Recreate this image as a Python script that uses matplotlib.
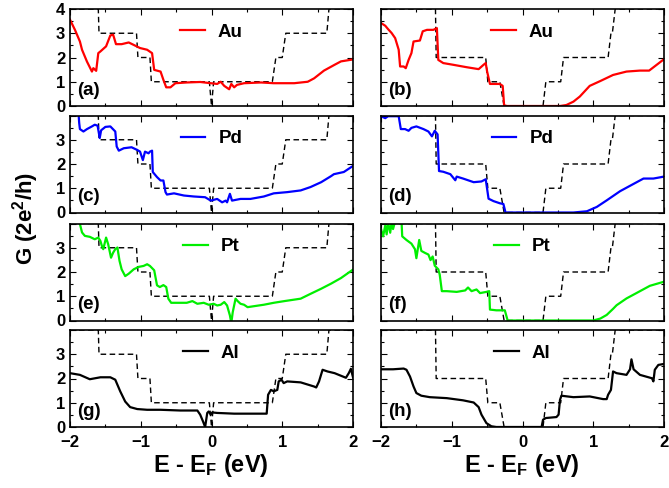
import numpy as np
import matplotlib
matplotlib.use("Agg")
import matplotlib.pyplot as plt

plt.rcParams['font.family'] = ['Liberation Sans', 'DejaVu Sans']
plt.rcParams['font.weight'] = 'bold'
plt.rcParams['mathtext.fontset'] = 'custom'
plt.rcParams['mathtext.rm'] = 'Liberation Sans:bold'
plt.rcParams['mathtext.bf'] = 'Liberation Sans:bold'
plt.rcParams['mathtext.default'] = 'bf'

# escalones de referencia (linea discontinua)
x_ref_izq = [-2, -1.60, -1.59, -1.06, -1.04, -0.87, -0.85, -0.03, 0.0, 0.03, 0.86, 0.91, 1.00, 1.05, 1.63, 1.66, 2]
g_ref_izq = [4, 4, 3, 3, 2, 2, 1, 1, 0, 1, 1, 2, 2, 3, 3, 4, 4]
x_ref_der = [-2, -1.23, -1.22, -0.52, -0.49, -0.32, -0.26, 0.29, 0.33, 0.54, 0.58, 1.21, 1.25, 1.27, 1.31, 2]
g_ref_der = [4, 4, 2, 2, 1, 1, 0, 0, 1, 1, 2, 2, 3, 3, 4, 4]

# (a) Au
xa = [-2, -1.93, -1.86, -1.83, -1.76, -1.69, -1.67, -1.63, -1.60, -1.57, -1.49, -1.43, -1.39, -1.35, -1.27, -1.17,
      -1.10, -1.01, -0.91, -0.84, -0.81, -0.72, -0.68, -0.64, -0.58, -0.51, -0.35, -0.16, -0.01, 0.08, 0.13, 0.18,
      0.25, 0.28, 0.32, 0.36, 0.46, 0.70, 0.88, 1.17, 1.36, 1.45, 1.59, 1.74, 1.83, 2]
ga = [3.56, 3.14, 2.66, 2.32, 1.83, 1.42, 1.56, 1.45, 2.18, 2.25, 2.46, 2.91, 2.94, 2.55, 2.55, 2.62,
      2.52, 2.39, 2.32, 2.18, 1.49, 1.42, 1.08, 0.77, 0.77, 0.94, 0.97, 0.99, 0.94, 0.91, 1.0, 0.83,
      0.69, 0.91, 0.77, 0.87, 0.94, 0.97, 0.94, 0.94, 1.0, 1.14, 1.46, 1.70, 1.84, 1.92]
# (b) Au
xb = [-2, -1.94, -1.90, -1.85, -1.80, -1.75, -1.73, -1.68, -1.65, -1.61, -1.57, -1.54, -1.45, -1.41, -1.35, -1.26,
      -1.21, -1.19, -1.12, -0.98, -0.79, -0.62, -0.55, -0.52, -0.50, -0.46, -0.32, -0.28, -0.26, -0.22, 0.53, 0.62,
      0.72, 0.81, 0.95, 1.10, 1.28, 1.47, 1.66, 1.79, 2]
gb = [3.42, 3.31, 3.17, 3.01, 2.80, 2.32, 1.63, 1.63, 1.56, 1.90, 2.18, 2.66, 2.70, 3.08, 3.14, 3.14,
      3.21, 1.90, 1.77, 1.70, 1.60, 1.52, 1.70, 1.77, 1.42, 0.91, 0.91, 0.83, 0.03, 0, 0, 0.04,
      0.18, 0.39, 0.83, 1.03, 1.28, 1.42, 1.46, 1.46, 1.93]
# (c) Pd
xc = [-1.88, -1.87, -1.86, -1.81, -1.76, -1.69, -1.65, -1.61, -1.58, -1.56, -1.50, -1.43, -1.36, -1.34, -1.31, -1.24,
      -1.13, -1.05, -1.01, -0.97, -0.94, -0.89, -0.87, -0.84, -0.83, -0.77, -0.72, -0.68, -0.65, -0.63, -0.53, -0.39,
      -0.25, -0.09, -0.01, 0.08, 0.15, 0.20, 0.22, 0.26, 0.29, 0.34, 0.41, 0.55, 0.74, 0.88, 1.07, 1.26,
      1.40, 1.55, 1.69, 1.73, 1.87, 2]
gc = [4.1, 3.69, 3.44, 3.34, 3.44, 3.55, 3.62, 3.58, 3.07, 3.39, 3.53, 3.55, 3.34, 2.72, 2.55, 2.65,
      2.69, 2.58, 2.51, 2.16, 2.51, 2.44, 2.51, 2.55, 1.67, 1.46, 1.32, 1.32, 0.84, 0.74, 0.79, 0.70,
      0.66, 0.63, 0.49, 0.56, 0.42, 0.49, 0.42, 0.77, 0.49, 0.52, 0.56, 0.56, 0.66, 0.79, 0.84, 0.91,
      1.05, 1.25, 1.50, 1.58, 1.67, 1.92]
# (d) Pd
xd = [-2, -1.94, -1.90, -1.75, -1.72, -1.66, -1.61, -1.57, -1.50, -1.40, -1.33, -1.28, -1.24, -1.20, -1.18, -1.12,
      -1.02, -0.95, -0.93, -0.84, -0.69, -0.58, -0.52, -0.48, -0.41, -0.32, -0.27, -0.24, 0.72, 0.91, 1.05, 1.19,
      1.38, 1.57, 1.71, 1.85, 2]
gd = [3.97, 3.89, 3.97, 3.97, 3.44, 3.44, 3.37, 3.49, 3.55, 3.44, 3.34, 3.14, 3.37, 3.22, 1.71, 1.68,
      1.58, 1.33, 1.48, 1.40, 1.25, 1.28, 1.37, 0.57, 0.47, 0.38, 0.35, 0, 0, 0.05, 0.23, 0.50,
      0.88, 1.18, 1.40, 1.40, 1.48]
# (e) Pt
xe = [-1.87, -1.83, -1.79, -1.72, -1.65, -1.60, -1.57, -1.55, -1.53, -1.49, -1.46, -1.42, -1.39, -1.36, -1.33, -1.30,
      -1.27, -1.22, -1.17, -1.10, -1.03, -0.96, -0.91, -0.87, -0.81, -0.77, -0.73, -0.68, -0.64, -0.61, -0.57, -0.49,
      -0.35, -0.27, -0.20, -0.11, -0.04, 0.03, 0.08, 0.13, 0.18, 0.22, 0.26, 0.28, 0.30, 0.34, 0.37, 0.41,
      0.46, 0.51, 0.60, 0.74, 0.88, 1.03, 1.26, 1.40, 1.55, 1.69, 1.83, 2]
ge = [4.1, 3.63, 3.49, 3.45, 3.35, 3.42, 3.28, 3.08, 2.94, 3.42, 3.14, 2.59, 2.80, 2.94, 3.01, 2.46,
      2.11, 1.83, 1.93, 2.11, 2.21, 2.25, 2.32, 2.25, 2.07, 1.45, 1.38, 1.46, 1.38, 0.90, 0.73, 0.73,
      0.73, 0.80, 0.69, 0.73, 0.65, 0.69, 0.62, 0.65, 0.76, 0.62, 0.21, -0.1, 0.34, 0.90, 0.80, 0.69,
      0.65, 0.55, 0.59, 0.65, 0.73, 0.80, 0.90, 1.10, 1.31, 1.52, 1.75, 2.1]
# (f) Pt
xf = [-2, -1.97, -1.94, -1.92, -1.90, -1.87, -1.85, -1.83, -1.80, -1.71, -1.70, -1.64, -1.57, -1.52, -1.50, -1.46,
      -1.43, -1.38, -1.33, -1.30, -1.27, -1.24, -1.19, -1.17, -1.14, -1.07, -0.93, -0.81, -0.77, -0.72, -0.65, -0.60,
      -0.51, -0.47, -0.46, -0.37, -0.25, -0.21, 1.0, 1.10, 1.19, 1.28, 1.33, 1.47, 1.61, 1.80, 2]
gf = [3.77, 3.47, 3.92, 3.55, 4.05, 3.62, 4.05, 3.77, 4.1, 4.1, 3.47, 3.32, 3.17, 2.94, 2.57, 3.32,
      2.87, 2.79, 2.72, 2.49, 2.64, 2.26, 2.11, 1.89, 1.21, 1.21, 1.18, 1.24, 1.36, 1.21, 1.28, 1.13,
      1.18, 1.21, 0.45, 0.42, 0.42, 0, 0, 0.08, 0.23, 0.48, 0.63, 0.91, 1.13, 1.43, 1.60]
# (g) Al
xg = [-2, -1.86, -1.72, -1.57, -1.43, -1.36, -1.29, -1.22, -1.15, -1.05, -0.91, -0.72, -0.44, -0.20, -0.16, -0.12,
      -0.09, -0.06, -0.04, -0.01, 0.01, 0.08, 0.32, 0.55, 0.78, 0.80, 0.84, 0.88, 0.93, 0.95, 0.99, 1.02,
      1.07, 1.26, 1.45, 1.48, 1.52, 1.57, 1.64, 1.74, 1.90, 1.94, 1.97, 2]
gg = [2.22, 2.15, 1.97, 2.05, 2.05, 1.95, 1.47, 1.05, 0.82, 0.74, 0.71, 0.71, 0.68, 0.68, 0.51, 0.23,
      0, 0.58, 0.64, 0.51, 0.60, 0.58, 0.55, 0.55, 0.55, 1.33, 1.53, 1.47, 1.53, 1.88, 1.95, 1.81,
      1.88, 1.84, 1.67, 1.63, 1.88, 2.36, 2.29, 2.22, 2.03, 2.22, 2.40, 2.05]
# (h) Al
xh = [-2, -1.83, -1.68, -1.64, -1.59, -1.54, -1.50, -1.43, -1.31, -1.07, -0.84, -0.69, -0.62, -0.58, -0.51, -0.44,
      -0.37, 0.27, 0.29, 0.33, 0.48, 0.51, 0.53, 0.55, 0.72, 0.95, 1.14, 1.19, 1.21, 1.25, 1.28, 1.33,
      1.47, 1.52, 1.54, 1.57, 1.66, 1.83, 1.85, 1.87, 1.92, 2]
gh = [2.38, 2.38, 2.41, 2.36, 2.08, 1.67, 1.40, 1.29, 1.23, 1.19, 1.10, 1.01, 0.82, 0.51, 0.16, 0.03,
      0, 0, 0.30, 0.37, 0.41, 0.51, 1.12, 1.29, 1.23, 1.26, 1.15, 1.15, 1.33, 1.53, 2.29, 2.22,
      2.15, 2.38, 2.79, 2.38, 2.15, 2.01, 1.88, 2.36, 2.56, 2.60]

paneles = [(xa, ga, 'red', 'Au', '(a)'), (xb, gb, 'red', 'Au', '(b)'),
           (xc, gc, 'blue', 'Pd', '(c)'), (xd, gd, 'blue', 'Pd', '(d)'),
           (xe, ge, '#00ee00', 'Pt', '(e)'), (xf, gf, '#00ee00', 'Pt', '(f)'),
           (xg, gg, 'black', 'Al', '(g)'), (xh, gh, 'black', 'Al', '(h)')]

fig = plt.figure(figsize=(6.69, 4.88), dpi=100)
izq = [70/669, 381/669]
ancho = 283/669
bases = [1-106/488, 1-212.5/488, 1-320.5/488, 1-427/488]
alto = 97/488

for i, (x, g, c, nombre, etiqueta) in enumerate(paneles):
    fila, col = i // 2, i % 2
    ax = fig.add_axes([izq[col], bases[fila], ancho, alto])
    if col == 0:
        ax.plot(x_ref_izq, g_ref_izq, '--', color='black', lw=1, dashes=(4, 2.5))
    else:
        ax.plot(x_ref_der, g_ref_der, '--', color='black', lw=1, dashes=(4, 2.5))
    ax.plot(x, g, color=c, lw=1.6, label=nombre)
    ax.set_xlim(-2, 2)
    ax.set_ylim(0, 4)
    ax.set_xticks([-2, -1, 0, 1, 2])
    ax.set_xticks(np.arange(-2, 2.01, 0.5), minor=True)
    ax.set_yticks([0, 1, 2, 3, 4])
    ax.set_yticks(np.arange(0, 4.01, 0.5), minor=True)
    ax.tick_params(which='both', direction='in', top=True, right=True, labelsize=12, width=0.8)
    ax.tick_params(which='major', length=4)
    ax.tick_params(which='minor', length=2.5)
    if col == 0:
        if fila == 0:
            ax.set_yticklabels(['0', '1', '2', '3', '4'])
        else:
            ax.set_yticklabels(['0', '1', '2', '3', ''])
    else:
        ax.set_yticklabels([])
    if fila < 3:
        ax.set_xticklabels([])
    else:
        ax.tick_params(axis='x', pad=5.5)
    for s in ax.spines.values():
        s.set_linewidth(1.2)
    ax.text(0.025, 0.16, etiqueta, transform=ax.transAxes, fontsize=13.5, fontweight='bold', va='center')
    ax.legend(loc='center', bbox_to_anchor=(0.5, 0.76), frameon=False, handlelength=1.3,
              handletextpad=0.7, prop={'weight': 'bold', 'size': 13.5})

fig.text(211/669, 1-472/488, r'E - E$_{F}$ (eV)', ha='center', va='baseline', fontsize=17, fontweight='bold')
fig.text(522/669, 1-472/488, r'E - E$_{F}$ (eV)', ha='center', va='baseline', fontsize=17, fontweight='bold')
fig.text(0.038, 0.553, r'G (2e$^{2}$/h)', rotation=90, ha='center', va='center', fontsize=16, fontweight='bold')

plt.savefig('out.png', dpi=100)
